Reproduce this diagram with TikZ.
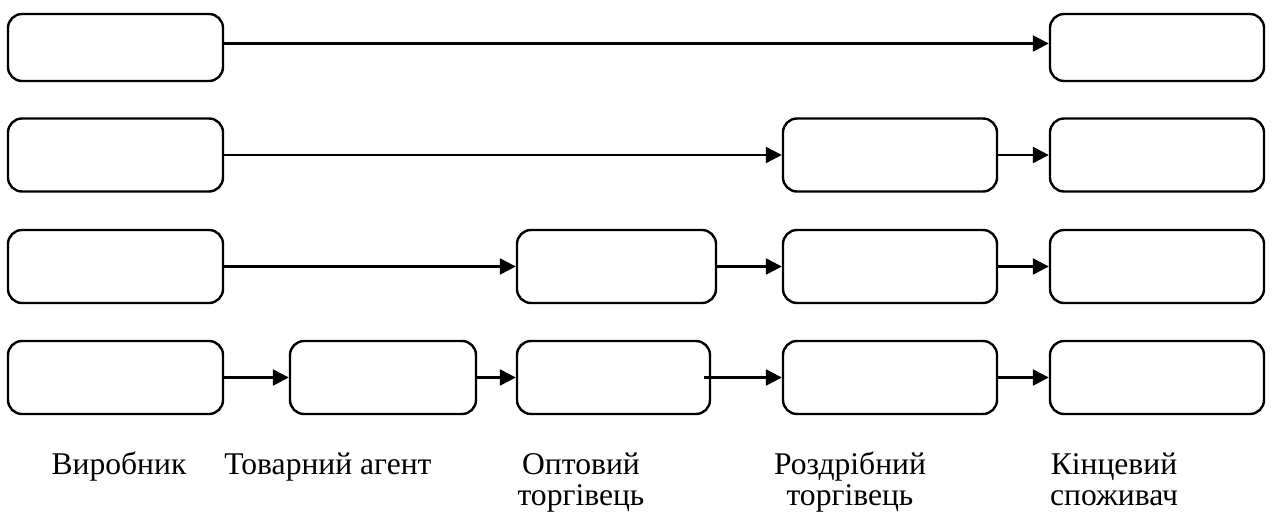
\documentclass[tikz,border=0pt]{standalone}
\usepackage{fontspec}
\setmainfont{Liberation Serif}
\usetikzlibrary{arrows.meta}
\tikzset{
  box/.style={draw, rounded corners=7pt, inner sep=0pt, minimum width=107pt, minimum height=36.5pt},
  lbl/.style={anchor=base, align=center, font=\fontsize{15.8pt}{15.5pt}\selectfont, inner sep=0pt}
}
\begin{document}
\begin{tikzpicture}[x=0.5pt, y=-0.5pt, >={Triangle[length=8pt,width=8pt]}, line width=1.2pt]
        \useasboundingbox (0,0) rectangle (1276,513);
        % row 1
        \node[box, minimum width=107.5pt, minimum height=33.5pt] (p1) at (115.5,47.5) {};
        \node[box, minimum height=33.5pt] (c1) at (1157,47.5) {};
        \draw[->] ([yshift=2pt]p1.east) -- ([yshift=2pt]c1.west);
        % row 2
        \node[box, minimum width=107.5pt] (p2) at (115.5,155) {};
        \node[box] (s2) at (890,155) {};
        \node[box] (c2) at (1157,155) {};
        \draw[->] (p2) -- (s2);
        \draw[->] (s2) -- (c2);
        % row 3
        \node[box, minimum width=107.5pt] (p3) at (115.5,266.5) {};
        \node[box, minimum width=99.5pt] (w3) at (616.5,266.5) {};
        \node[box] (s3) at (890,266.5) {};
        \node[box] (c3) at (1157,266.5) {};
        \draw[->] (p3) -- (w3);
        \draw[->] (w3) -- (s3);
        \draw[->] (s3) -- (c3);
        % row 4
        \node[box, minimum width=107.5pt] (p4) at (115.5,377.5) {};
        \node[box, minimum width=93pt] (a4) at (383,377.5) {};
        \node[box, minimum width=96.5pt] (w4) at (613.5,377.5) {};
        \node[box] (s4) at (890,377.5) {};
        \node[box] (c4) at (1157,377.5) {};
        \draw[->] (p4) -- (a4);
        \draw[->] (a4) -- (w4);
        \draw[->] ([xshift=-3.5pt]w4.east) -- (s4);
        \draw[->] (s4) -- (c4);
        % labels (base = last line)
        \node[lbl] (lp) at (119,475) {Виробник};
        \node[lbl] (la) at (328,475) {Товарний агент};
        \node[lbl] (lw) at (581,506) {Оптовий\\торгівець};
        \node[lbl] (ls) at (850,506) {Роздрібний\\торгівець};
        \node[lbl] (lc) at (1114,506) {Кінцевий\\споживач};
\end{tikzpicture}
\end{document}
